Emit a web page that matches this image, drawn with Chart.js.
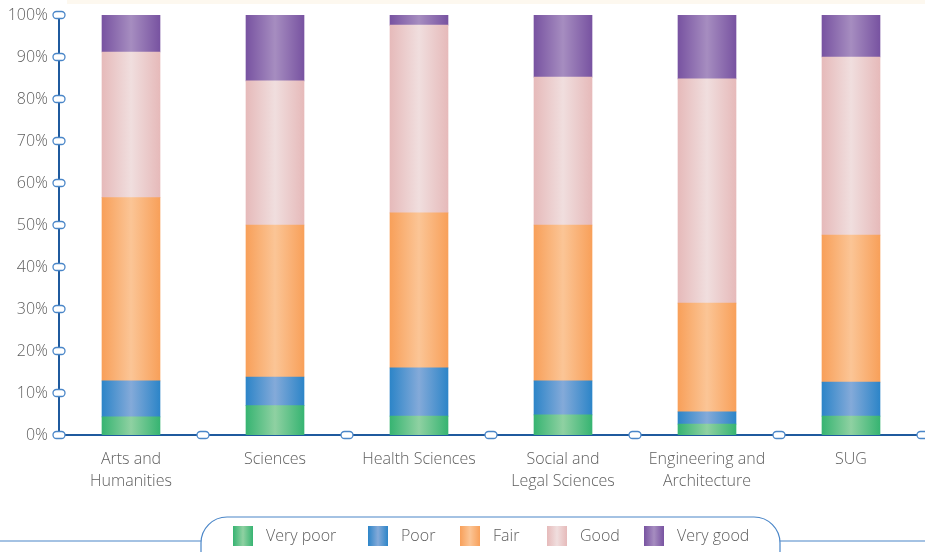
<!DOCTYPE html>
<html>
<head>
<meta charset="utf-8">
<script src="https://cdn.jsdelivr.net/npm/chart.js@4.4.1/dist/chart.umd.min.js"></script>
<style>
  html, body { margin: 0; padding: 0; background: #fff; }
  #wrap { width: 925px; height: 552px; }
</style>
</head>
<body>
<div id="wrap"><canvas id="chart" width="925" height="552"></canvas></div>
<script>
// ─── Data ──────────────────────────────────────────────

const faculties = [
  ['Arts and', 'Humanities'],
  'Sciences',
  'Health Sciences',
  ['Social and', 'Legal Sciences'],
  ['Engineering and', 'Architecture'],
  'SUG',
];
const ratings   = ['Very poor', 'Poor', 'Fair', 'Good', 'Very good'];

const veryPoor  = [4.3, 7.0, 4.5, 4.8, 2.6, 4.5];
const poor      = [8.6, 6.8, 11.5, 8.1, 2.9, 8.1];
const fair      = [43.6, 36.2, 36.9, 37.1, 25.9, 35.0];
const good      = [34.7, 34.3, 44.7, 35.2, 53.4, 42.4];
const veryGood  = [8.8, 15.7, 2.4, 14.8, 15.2, 10.0];

const yTickValues = [0, 10, 20, 30, 40, 50, 60, 70, 80, 90, 100];

// edge / middle colour of each band's sheen
const shades = [
  ['#37b472', '#8fd1a2'],
  ['#2d85c8', '#84aad9'],
  ['#f8a05a', '#fbc596'],
  ['#e6baba', '#f0dede'],
  ['#7853a1', '#a68dc0'],
];

const BAR_W     = 58;
const AXIS_BLUE = '#1f5a9e';
const TICK_BLUE = '#4a86c8';
const TEXT_GREY = '#5e5e5e';
const FONT      = '"Open Sans", sans-serif';

// ─── Helpers ───────────────────────────────────────────

function barShade(edge, mid) {
  return ctx => {
    const xs = ctx.chart.scales.x;
    if (!xs || ctx.type !== 'data') return edge;
    const cx = xs.getPixelForValue(ctx.dataIndex);
    if (!Number.isFinite(cx)) return edge;
    const g  = ctx.chart.ctx.createLinearGradient(cx - BAR_W / 2, 0, cx + BAR_W / 2, 0);
    g.addColorStop(0, edge);
    g.addColorStop(0.5, mid);
    g.addColorStop(1, edge);
    return g;
  };
}

function capsule(ctx, x, y) {
  ctx.beginPath();
  ctx.roundRect(x - 6, y - 3.5, 12, 7, 3.5);
  ctx.fillStyle = '#fff';
  ctx.fill();
  ctx.lineWidth = 1.3;
  ctx.strokeStyle = TICK_BLUE;
  ctx.stroke();
}

// capsule markers on both axes, the cream band on top, and the boxed legend
const decorations = {
  id: 'decorations',
  beforeDraw(chart) {
    const ctx = chart.ctx;
    ctx.save();
    ctx.fillStyle = '#fdf8ef';
    ctx.fillRect(67, 0, chart.width - 67, 4);
    ctx.restore();
  },
  afterDraw(chart) {
    const { ctx, scales: { x, y } } = chart;
    ctx.save();

    y.ticks.forEach((t, i) => capsule(ctx, y.right, y.getPixelForTick(i)));
    const step = x.width / faculties.length;
    for (let i = 1; i <= faculties.length; i++) capsule(ctx, x.left + i * step, x.top);

    // legend frame
    const top = 517, mid = 541, left = 201, right = 780;
    ctx.lineWidth = 1.2;
    ctx.strokeStyle = TICK_BLUE;
    ctx.beginPath();
    ctx.moveTo(0, mid); ctx.lineTo(left, mid);
    ctx.moveTo(right, mid); ctx.lineTo(chart.width, mid);
    ctx.stroke();
    ctx.beginPath();
    ctx.roundRect(left, top, right - left, 60, 26);
    ctx.fillStyle = '#fff';
    ctx.fill();
    ctx.stroke();

    // legend items
    const swatchX = [233, 368, 460, 547, 644];
    ctx.font = `300 16px ${FONT}`;
    ctx.textBaseline = 'middle';
    ratings.forEach((r, i) => {
      const sx = swatchX[i];
      const g  = ctx.createLinearGradient(sx, 0, sx + 20, 0);
      g.addColorStop(0, shades[i][0]);
      g.addColorStop(0.5, shades[i][1]);
      g.addColorStop(1, shades[i][0]);
      ctx.fillStyle = g;
      ctx.fillRect(sx, 526, 20, 20);
      ctx.fillStyle = TEXT_GREY;
      ctx.fillText(r, sx + 33, 536);
    });

    ctx.restore();
  },
};

// ─── Chart ─────────────────────────────────────────────

const series = [veryPoor, poor, fair, good, veryGood];

new Chart(document.getElementById('chart'), {
  type: 'bar',
  data: {
    labels: faculties,
    datasets: series.map((values, i) => ({
      label: ratings[i],
      data: values,
      backgroundColor: barShade(shades[i][0], shades[i][1]),
      borderWidth: 0,
      barThickness: BAR_W,
    })),
  },
  options: {
    responsive: false,
    animation: false,
    events: [],
    layout: { padding: { top: 15, right: 2, left: 0, bottom: 0 } },
    plugins: {
      legend: { display: false },
      tooltip: { enabled: false },
    },
    scales: {
      x: {
        stacked: true,
        grid: { display: false, drawTicks: false },
        border: { display: true, color: AXIS_BLUE, width: 2 },
        ticks: {
          color: TEXT_GREY,
          font: { family: FONT, size: 16, weight: 300, lineHeight: 1.38 },
          padding: 13,
          maxRotation: 0,
          autoSkip: false,
        },
        afterFit: s => { s.height = 117; s.paddingLeft = 0; s.paddingRight = 0; },
      },
      y: {
        stacked: true,
        min: 0,
        max: 100,
        afterBuildTicks: s => { s.ticks = yTickValues.map(v => ({ value: v })); },
        grid: { display: false, drawTicks: false },
        border: { display: true, color: AXIS_BLUE, width: 2 },
        ticks: {
          color: TEXT_GREY,
          font: { family: FONT, size: 16, weight: 300 },
          padding: 11,
          callback: v => `${v}%`,
        },
        afterFit: s => { s.width = 59; s.paddingTop = 0; s.paddingBottom = 0; },
      },
    },
  },
  plugins: [decorations],
});
</script>
</body>
</html>
